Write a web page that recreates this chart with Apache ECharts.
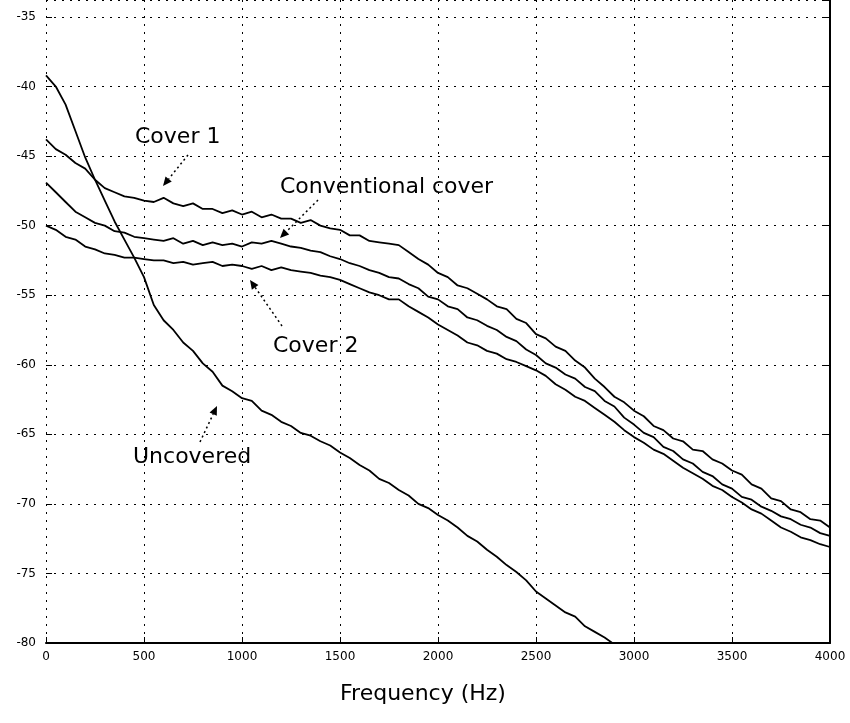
<!DOCTYPE html>
<html><head><meta charset="utf-8">
<script src="https://cdn.jsdelivr.net/npm/echarts@6/dist/echarts.min.js"></script>
<style>html,body{margin:0;padding:0;background:#fff}#c{width:850px;height:723px}</style>
</head><body><div id="c"></div>
<script>
// Frequency samples (Hz)
const freqs = [0,50,100,150,200,250,300,350,400,450,500,550,600,650,700,750,800,850,900,950,
1000,1050,1100,1150,1200,1250,1300,1350,1400,1450,1500,1550,1600,1650,1700,1750,1800,1850,1900,1950,
2000,2050,2100,2150,2200,2250,2300,2350,2400,2450,2500,2550,2600,2650,2700,2750,2800,2850,2900,2950,
3000,3050,3100,3150,3200,3250,3300,3350,3400,3450,3500,3550,3600,3650,3700,3750,3800,3850,3900,3950,4000];

// Levels (dB)
const cover1 = [-43.8,-44.5,-44.9,-45.5,-45.9,-46.7,-47.3,-47.6,-47.9,-48.0,
-48.2,-48.3,-48.0,-48.4,-48.6,-48.4,-48.8,-48.8,-49.1,-48.9,
-49.2,-49.0,-49.4,-49.2,-49.5,-49.5,-49.8,-49.6,-50.0,-50.2,
-50.3,-50.7,-50.7,-51.1,-51.2,-51.3,-51.4,-51.9,-52.4,-52.8,
-53.4,-53.7,-54.3,-54.5,-54.9,-55.3,-55.8,-56.0,-56.7,-57.0,
-57.8,-58.1,-58.7,-59.0,-59.7,-60.2,-61.0,-61.6,-62.3,-62.7,
-63.3,-63.7,-64.4,-64.7,-65.3,-65.5,-66.1,-66.2,-66.8,-67.1,
-67.6,-67.9,-68.6,-68.9,-69.6,-69.8,-70.4,-70.6,-71.1,-71.2,-71.7];

const conventional = [-46.9,-47.6,-48.3,-49.0,-49.4,-49.8,-50.0,-50.4,-50.5,-50.8,
-50.9,-51.0,-51.1,-50.9,-51.3,-51.1,-51.4,-51.2,-51.4,-51.3,
-51.5,-51.2,-51.3,-51.1,-51.3,-51.5,-51.6,-51.8,-51.9,-52.2,
-52.4,-52.7,-52.9,-53.2,-53.4,-53.7,-53.8,-54.2,-54.5,-55.1,
-55.3,-55.8,-56.0,-56.6,-56.8,-57.2,-57.5,-58.0,-58.3,-58.9,
-59.3,-59.9,-60.2,-60.7,-61.0,-61.6,-61.9,-62.6,-63.0,-63.8,
-64.3,-64.9,-65.2,-65.9,-66.2,-66.8,-67.1,-67.7,-68.0,-68.6,
-68.9,-69.5,-69.7,-70.2,-70.5,-70.9,-71.1,-71.5,-71.7,-72.1,-72.3];

const cover2 = [-50.0,-50.3,-50.8,-51.0,-51.5,-51.7,-52.0,-52.1,-52.3,-52.3,
-52.4,-52.5,-52.5,-52.7,-52.6,-52.8,-52.7,-52.6,-52.9,-52.8,
-52.9,-53.1,-52.9,-53.2,-53.0,-53.2,-53.3,-53.4,-53.6,-53.7,
-53.9,-54.2,-54.5,-54.8,-55.0,-55.3,-55.3,-55.8,-56.2,-56.6,
-57.1,-57.5,-57.9,-58.4,-58.6,-59.0,-59.2,-59.6,-59.8,-60.1,
-60.4,-60.8,-61.4,-61.8,-62.3,-62.6,-63.1,-63.6,-64.1,-64.7,
-65.2,-65.6,-66.1,-66.4,-66.9,-67.4,-67.8,-68.2,-68.7,-69.0,
-69.5,-69.9,-70.4,-70.7,-71.2,-71.7,-72.0,-72.4,-72.6,-72.9,-73.1];

const uncovered = [-39.2,-40.0,-41.3,-43.2,-45.1,-46.7,-48.2,-49.7,-51.0,-52.3,
-53.7,-55.7,-56.8,-57.5,-58.4,-59.0,-59.9,-60.5,-61.5,-61.9,
-62.4,-62.6,-63.3,-63.6,-64.1,-64.4,-64.9,-65.1,-65.5,-65.8,
-66.3,-66.7,-67.2,-67.6,-68.2,-68.5,-69.0,-69.4,-70.0,-70.3,
-70.8,-71.2,-71.7,-72.3,-72.7,-73.3,-73.8,-74.4,-74.9,-75.5,
-76.3,-76.8,-77.3,-77.8,-78.1,-78.8,-79.2,-79.6,-80.1,-80.5,-81.0];

const yMin = -80, yMax = -33.78, yStep = 5;   // top of the plot is cropped just above -35

function pairs(vals){ return vals.map((v,i)=>[freqs[i], v]); }

function arrow(x1,y1,x2,y2){
  const dx=x2-x1, dy=y2-y1, L=Math.hypot(dx,dy), ux=dx/L, uy=dy/L;
  const bx=x2-ux*9, by=y2-uy*9, px=-uy*4, py=ux*4;
  return [
    {type:'line', shape:{x1:x1,y1:y1,x2:bx,y2:by}, style:{stroke:'#000', lineWidth:1.5, lineDash:[2,3]}},
    {type:'polygon', shape:{points:[[x2,y2],[bx+px,by+py],[bx-px,by-py]]}, style:{fill:'#000'}}
  ];
}

const FONT = 'DejaVu Sans';
const txt = (t,x,y)=>({type:'text', left:x, top:y, style:{text:t, font:'22px "'+FONT+'"', fill:'#000'}});

const chart = echarts.init(document.getElementById('c'), null, {renderer:'canvas'});
const line = (name, vals) => ({
  name, type:'line', data:pairs(vals), showSymbol:false, symbol:'none',
  lineStyle:{color:'#000', width:1.8}, clip:true, animation:false
});
chart.setOption({
  animation:false,
  backgroundColor:'#fff',
  grid:{left:46, right:20, top:0, bottom:80},
  xAxis:{
    type:'value', min:0, max:4000, interval:500,
    name:'Frequency (Hz)', nameLocation:'middle', nameGap:40,
    nameTextStyle:{color:'#000', fontSize:22, fontFamily:FONT, padding:[0,30,0,0]},
    axisLine:{lineStyle:{color:'#000', width:2}},
    axisTick:{inside:true, length:6, lineStyle:{color:'#000'}},
    axisLabel:{color:'#000', fontSize:12, fontFamily:FONT, margin:8, formatter:v=>String(v)},
    splitLine:{show:true, lineStyle:{color:'#000', type:[2,6], width:1}}
  },
  yAxis:[{
    type:'value', min:yMin, max:yMax, interval:yStep,
    axisLine:{show:false},
    axisTick:{show:true, inside:true, length:6, lineStyle:{color:'#000'}},
    axisLabel:{color:'#000', fontSize:12, fontFamily:FONT, margin:10, showMaxLabel:false, formatter:v=>String(v)},
    splitLine:{show:true, lineStyle:{color:'#000', type:[2,6], width:1}}
  },{
    type:'value', min:yMin, max:yMax, interval:yStep, position:'right',
    axisLine:{show:true, lineStyle:{color:'#000', width:2}},
    axisTick:{show:true, inside:true, length:6, lineStyle:{color:'#000'}},
    axisLabel:{show:false}, splitLine:{show:false}
  }],
  series:[
    line('Cover 1', cover1),
    line('Conventional cover', conventional),
    line('Cover 2', cover2),
    line('Uncovered', uncovered)
  ],
  graphic:[
    txt('Cover 1',135,126),
    ...arrow(188,155,163,186),
    txt('Conventional cover',280,176),
    ...arrow(318,200,280,238),
    txt('Cover 2',273,335),
    ...arrow(282,326,250,280),
    txt('Uncovered',133,446),
    ...arrow(200,442,217,406)
  ]
});
</script></body></html>
